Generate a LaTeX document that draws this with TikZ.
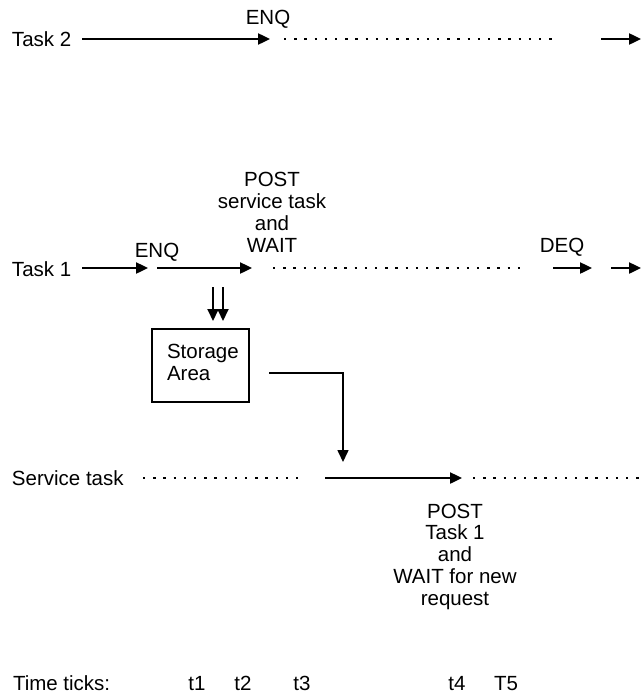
\documentclass[tikz,border=0pt]{standalone}
\usepackage{fontspec}
\setmainfont{Liberation Sans}
\usetikzlibrary{arrows.meta}
\begin{document}
\begin{tikzpicture}[x=1pt,y=-1pt,
  lbl/.style={inner sep=0pt,outer sep=0pt,font=\fontsize{20.5}{21.7}\selectfont,text=black},
  flow/.style={line width=2.4pt,-{Triangle[length=12pt,width=11pt]}},
  wait/.style={line width=2.3pt,dash pattern=on 2.3pt off 7.9pt},
  thin/.style={line width=1.6pt},
  thinarrow/.style={line width=1.6pt,-{Triangle[length=12pt,width=11pt]}}]
\useasboundingbox (0,0) rectangle (641,696);
% ---- Task 2 row
\node[lbl,anchor=base west] (t2lbl) at (12,46.5) {Task 2};
\coordinate (a2s) at (82,39); \coordinate (a2e) at (270,39);
\coordinate (d2s) at (284,39); \coordinate (d2e) at (557,39);
\coordinate (b2s) at (601,39); \coordinate (b2e) at (641,39);
\draw[flow] (a2s) -- (a2e);
\draw[wait] (d2s) -- (d2e);
\draw[flow] (b2s) -- (b2e);
\node[lbl,anchor=base] (enq2) at (268,24) {ENQ};
% ---- Task 1 row
\node[lbl,anchor=base west] (t1lbl) at (12,276) {Task 1};
\coordinate (a1s) at (82,268); \coordinate (a1e) at (148,268);
\coordinate (b1s) at (157,268); \coordinate (b1e) at (252,268);
\coordinate (d1s) at (273,268); \coordinate (d1e) at (524,268);
\coordinate (c1s) at (553,268); \coordinate (c1e) at (592,268);
\coordinate (e1s) at (611,268); \coordinate (e1e) at (641,268);
\draw[flow] (a1s) -- (a1e);
\draw[flow] (b1s) -- (b1e);
\draw[wait] (d1s) -- (d1e);
\draw[flow] (c1s) -- (c1e);
\draw[flow] (e1s) -- (e1e);
\node[lbl,anchor=base] (enq1) at (157,257) {ENQ};
\node[lbl,anchor=base,align=center] (post1) at (272,252) {POST\\service task\\and\\WAIT};
\node[lbl,anchor=base] (deq) at (562,252) {DEQ};
% ---- double arrows into storage
\coordinate (p1s) at (213,287); \coordinate (p1e) at (213,321);
\coordinate (p2s) at (223,287); \coordinate (p2e) at (223,321);
\draw[line width=2pt,-{Triangle[length=12pt,width=11pt]}] (p1s) -- (p1e);
\draw[line width=2pt,-{Triangle[length=12pt,width=11pt]}] (p2s) -- (p2e);
% ---- storage area
\node[draw,thin,minimum width=97pt,minimum height=73pt,inner sep=0pt] (store) at (200.5,365.5) {};
\node[lbl,anchor=base west,align=left] (storetxt) at (167,380) {Storage\\Area};
\coordinate (cs) at (269,373); \coordinate (ck) at (343,373); \coordinate (ce) at (343,462);
\draw[thinarrow] (cs) -- (ck) -- (ce);
% ---- service task row
\node[lbl,anchor=base west] (svlbl) at (12,485) {Service task};
\coordinate (d3s) at (143,478); \coordinate (d3e) at (306,478);
\coordinate (a3s) at (325,478); \coordinate (a3e) at (462,478);
\coordinate (d4s) at (473,478); \coordinate (d4e) at (641,478);
\draw[wait] (d3s) -- (d3e);
\draw[flow] (a3s) -- (a3e);
\draw[wait] (d4s) -- (d4e);
\node[lbl,anchor=base,align=center] (post2) at (455,605) {POST\\Task 1\\and\\WAIT for new\\request};
% ---- time ticks
\node[lbl,anchor=base west] (ttl) at (13,690) {Time ticks:};
\node[lbl,anchor=base] (tk1) at (197,690) {t1};
\node[lbl,anchor=base] (tk2) at (243,690) {t2};
\node[lbl,anchor=base] (tk3) at (302,690) {t3};
\node[lbl,anchor=base] (tk4) at (457,690) {t4};
\node[lbl,anchor=base] (tk5) at (506,690) {T5};
\end{tikzpicture}
\end{document}
